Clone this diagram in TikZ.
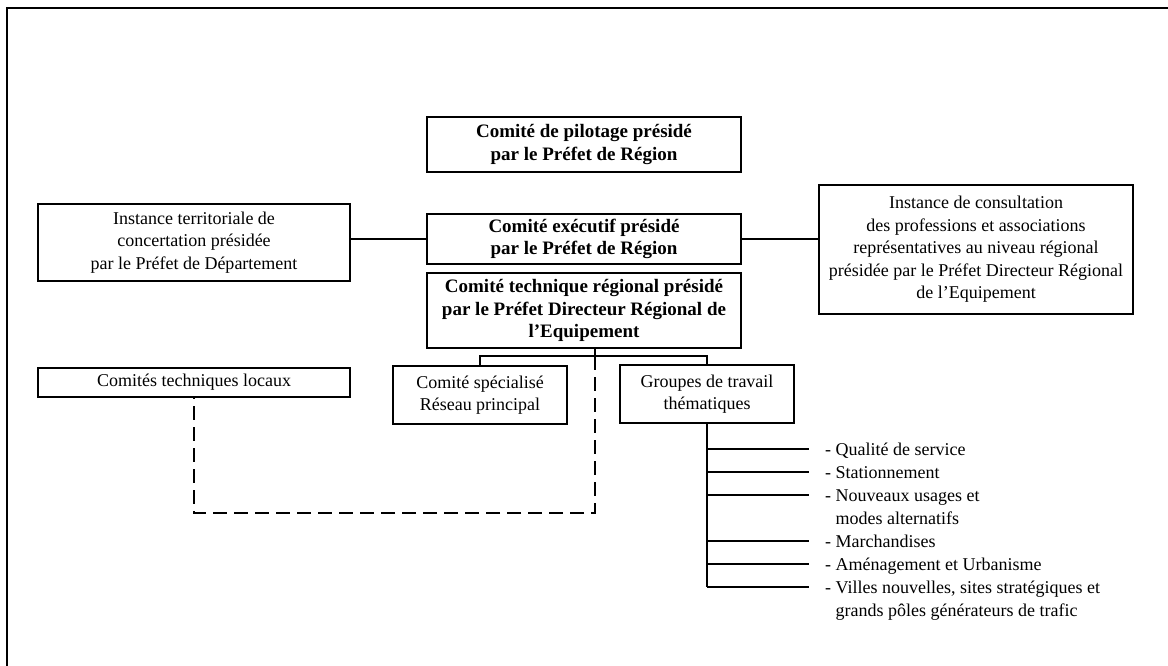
\documentclass[tikz,border=0pt]{standalone}
\usepackage{fontspec}
\setmainfont{Liberation Serif}
\tikzset{
  box/.style={draw, line width=1.6bp, align=center, inner sep=0pt, font=\fontsize{18bp}{22.5bp}\selectfont},
  bbox/.style={box, font=\fontsize{19bp}{22.5bp}\selectfont\bfseries},
  link/.style={line width=1.3bp},
  dashlink/.style={line width=1.8bp, dash pattern=on 14bp off 7bp},
  item/.style={anchor=base west, inner sep=0pt, align=left, font=\fontsize{18bp}{23bp}\selectfont}
}
\begin{document}
\begin{tikzpicture}[x=1bp, y=-1bp]
			%%%%% FRAME %%%%%
			\useasboundingbox (0,0) rectangle (1168,666);
			\draw[line width=2bp] (7,666) -- (7,8) -- (1168,8);
			
			%%%%% BOXES %%%%%
			\node[bbox, minimum width=314bp, minimum height=55bp] (pilot) at (584,144.5) {Comité de pilotage présidé\\par le Préfet de Région};
			\node[bbox, minimum width=314bp, minimum height=50bp] (exec) at (584,239) {Comité exécutif présidé\\par le Préfet de Région};
			\node[bbox, minimum width=314bp, minimum height=75bp] (tech) at (584,310.5) {Comité technique régional présidé\\par le Préfet Directeur Régional de\\l'Equipement};
			
			\node[box, minimum width=312bp, minimum height=77bp] (terr) at (194,242.5) {Instance territoriale de\\concertation présidée\\par le Préfet de Département};
			\node[box, minimum width=314bp, minimum height=129bp] (consult) at (976,249.5) {Instance de consultation\\des professions et associations\\représentatives au niveau régional\\présidée par le Préfet Directeur Régional\\de l'Equipement};
			
			\node[box, minimum width=312bp, minimum height=29bp] (local) at (194,382.5) {Comités techniques locaux};
			\node[box, minimum width=174bp, minimum height=58bp] (spec) at (480,395) {Comité spécialisé\\Réseau principal};
			\node[box, minimum width=174bp, minimum height=58bp] (grp) at (707,394) {Groupes de travail\\thématiques};
			
			%%%%% LINKS %%%%%
			\draw[link] (exec.west) -- (exec.west -| terr.east);
			\draw[link] (exec.east) -- (exec.east -| consult.west);
			
			\coordinate (hub) at (595,356);
			\draw[link] (tech.south -| hub) -- (hub);
			\draw[link] (spec.north) |- (hub) -| (grp.north);
			\draw[dashlink] (hub) -- ++(0,157) -| (local.south);
			
			%%%%% THEMES %%%%%
			\coordinate (b1) at (809,449);
			\coordinate (b2) at (809,472);
			\coordinate (b3) at (809,495);
			\coordinate (b4) at (809,541);
			\coordinate (b5) at (809,564);
			\coordinate (b6) at (809,587);
			
			\node[item] (t1) at (825,455) {- Qualité de service};
			\node[item] (t2) at (825,478) {- Stationnement};
			\node[item] (t3) at (825,501) {\begin{tabular}[t]{@{}l@{}}- Nouveaux usages et\\\phantom{- }modes alternatifs\end{tabular}};
			\node[item] (t4) at (825,547) {- Marchandises};
			\node[item] (t5) at (825,570) {- Aménagement et Urbanisme};
			\node[item] (t6) at (825,593) {\begin{tabular}[t]{@{}l@{}}- Villes nouvelles, sites stratégiques et\\\phantom{- }grands pôles générateurs de trafic\end{tabular}};
			
			\draw[link] (grp.south) -- (grp.south |- b6);
			\draw[link] (grp.south |- b1) -- (b1);
			\draw[link] (grp.south |- b2) -- (b2);
			\draw[link] (grp.south |- b3) -- (b3);
			\draw[link] (grp.south |- b4) -- (b4);
			\draw[link] (grp.south |- b5) -- (b5);
			\draw[link] (grp.south |- b6) -- (b6);
			
			%%%%% END %%%%%
\end{tikzpicture}
\end{document}
